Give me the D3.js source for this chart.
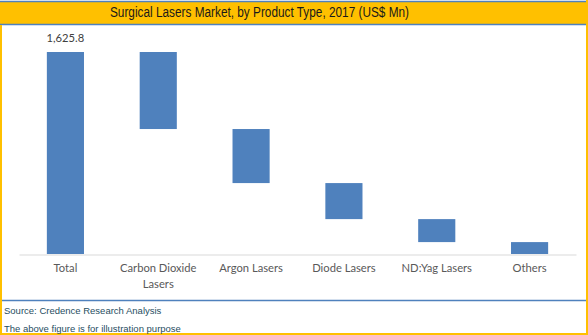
<!DOCTYPE html>
<html>
<head>
<meta charset="utf-8">
<script src="https://cdn.jsdelivr.net/npm/d3@7"></script>
<style>
  html, body { margin: 0; padding: 0; background: #fff; }
  svg { display: block; }
</style>
</head>
<body>
<svg id="chart" width="588" height="335"></svg>
<script>
// Surgical lasers market breakdown, 2017 (US$ Mn)
const categories = ["Total", "Carbon Dioxide Lasers", "Argon Lasers", "Diode Lasers", "ND:Yag Lasers", "Others"];
const values = [1625.8, 620, 435, 290, 185, 95.8];
const totalLabel = "1,625.8";

const W = 588, H = 335;
const svg = d3.select("#chart");

// waterfall: first bar is the total, each segment hangs below the previous one
let running = values[0];
const bars = categories.map((c, i) => {
  if (i === 0) return { cat: c, y0: 0, y1: values[0] };
  const top = running;
  running -= values[i];
  return { cat: c, y0: running, y1: top };
});

const x = d3.scaleBand().domain(categories).range([19, 576]).paddingInner(0.6).paddingOuter(0.3);
const y = d3.scaleLinear().domain([0, values[0]]).range([254, 52]);

// frame
svg.append("rect").attr("x", 0).attr("y", 0).attr("width", W).attr("height", H).attr("fill", "#fff");
svg.append("rect").attr("x", 0).attr("y", 1).attr("width", W).attr("height", 23).attr("fill", "#FFC000");
svg.append("line").attr("x1", 0).attr("x2", W).attr("y1", 1.5).attr("y2", 1.5).attr("stroke", "#4F81BD").attr("stroke-width", 1.5);
svg.append("line").attr("x1", 0).attr("x2", W).attr("y1", 24.5).attr("y2", 24.5).attr("stroke", "#4F81BD").attr("stroke-width", 1.5);
svg.append("line").attr("x1", 0).attr("x2", 587).attr("y1", 300.5).attr("y2", 300.5).attr("stroke", "#4F81BD").attr("stroke-width", 1.5);
svg.append("line").attr("x1", 1).attr("x2", 1).attr("y1", 25).attr("y2", H).attr("stroke", "#FFC000").attr("stroke-width", 2);
svg.append("line").attr("x1", 587).attr("x2", 587).attr("y1", 0).attr("y2", H).attr("stroke", "#FFC000").attr("stroke-width", 2);
svg.append("line").attr("x1", 0).attr("x2", W).attr("y1", 334).attr("y2", 334).attr("stroke", "#FFC000").attr("stroke-width", 2);

// title (condensed to fit the banner)
svg.append("text").attr("x", 259.5).attr("y", 17)
  .attr("text-anchor", "middle")
  .attr("font-family", "Liberation Sans, Arial, sans-serif")
  .attr("font-size", 14).attr("fill", "#1a1a1a")
  .attr("textLength", 299).attr("lengthAdjust", "spacingAndGlyphs")
  .text("Surgical Lasers Market, by Product Type, 2017 (US$ Mn)");

// bars
svg.append("g").selectAll("rect").data(bars).join("rect")
  .attr("x", d => x(d.cat))
  .attr("width", x.bandwidth())
  .attr("y", d => y(d.y1))
  .attr("height", d => y(d.y0) - y(d.y1))
  .attr("fill", "#4F81BD");

// axis
const xAxis = d3.axisBottom(x).tickSize(0).tickPadding(10);
const gx = svg.append("g").attr("transform", "translate(0,254.5)").call(xAxis);
gx.select(".domain").attr("stroke", "#D9D9D9").attr("stroke-width", 1);
gx.selectAll("text")
  .attr("font-family", "Lato, Open Sans, sans-serif")
  .attr("font-size", 11.2).attr("fill", "#595959")
  .each(function(d) {
    const t = d3.select(this);
    if (d === "Carbon Dioxide Lasers") {
      t.text(null);
      t.append("tspan").attr("x", 0).attr("dy", "0.71em").text("Carbon Dioxide");
      t.append("tspan").attr("x", 0).attr("dy", "1.35em").text("Lasers");
      t.attr("dy", null);
    }
  });

// total value label
svg.append("text")
  .attr("x", x(categories[0]) + x.bandwidth() / 2)
  .attr("y", y(values[0]) - 10)
  .attr("text-anchor", "middle")
  .attr("font-family", "Lato, Open Sans, sans-serif")
  .attr("font-size", 11.2).attr("fill", "#404040")
  .text(totalLabel);

// footer
const foot = svg.append("g")
  .attr("font-family", "Liberation Sans, Arial, sans-serif")
  .attr("font-size", 9.5).attr("fill", "#1F4E5F");
foot.append("text").attr("x", 4).attr("y", 314).text("Source: Credence Research Analysis");
foot.append("text").attr("x", 4).attr("y", 332).text("The above figure is for illustration purpose");
</script>
</body>
</html>
